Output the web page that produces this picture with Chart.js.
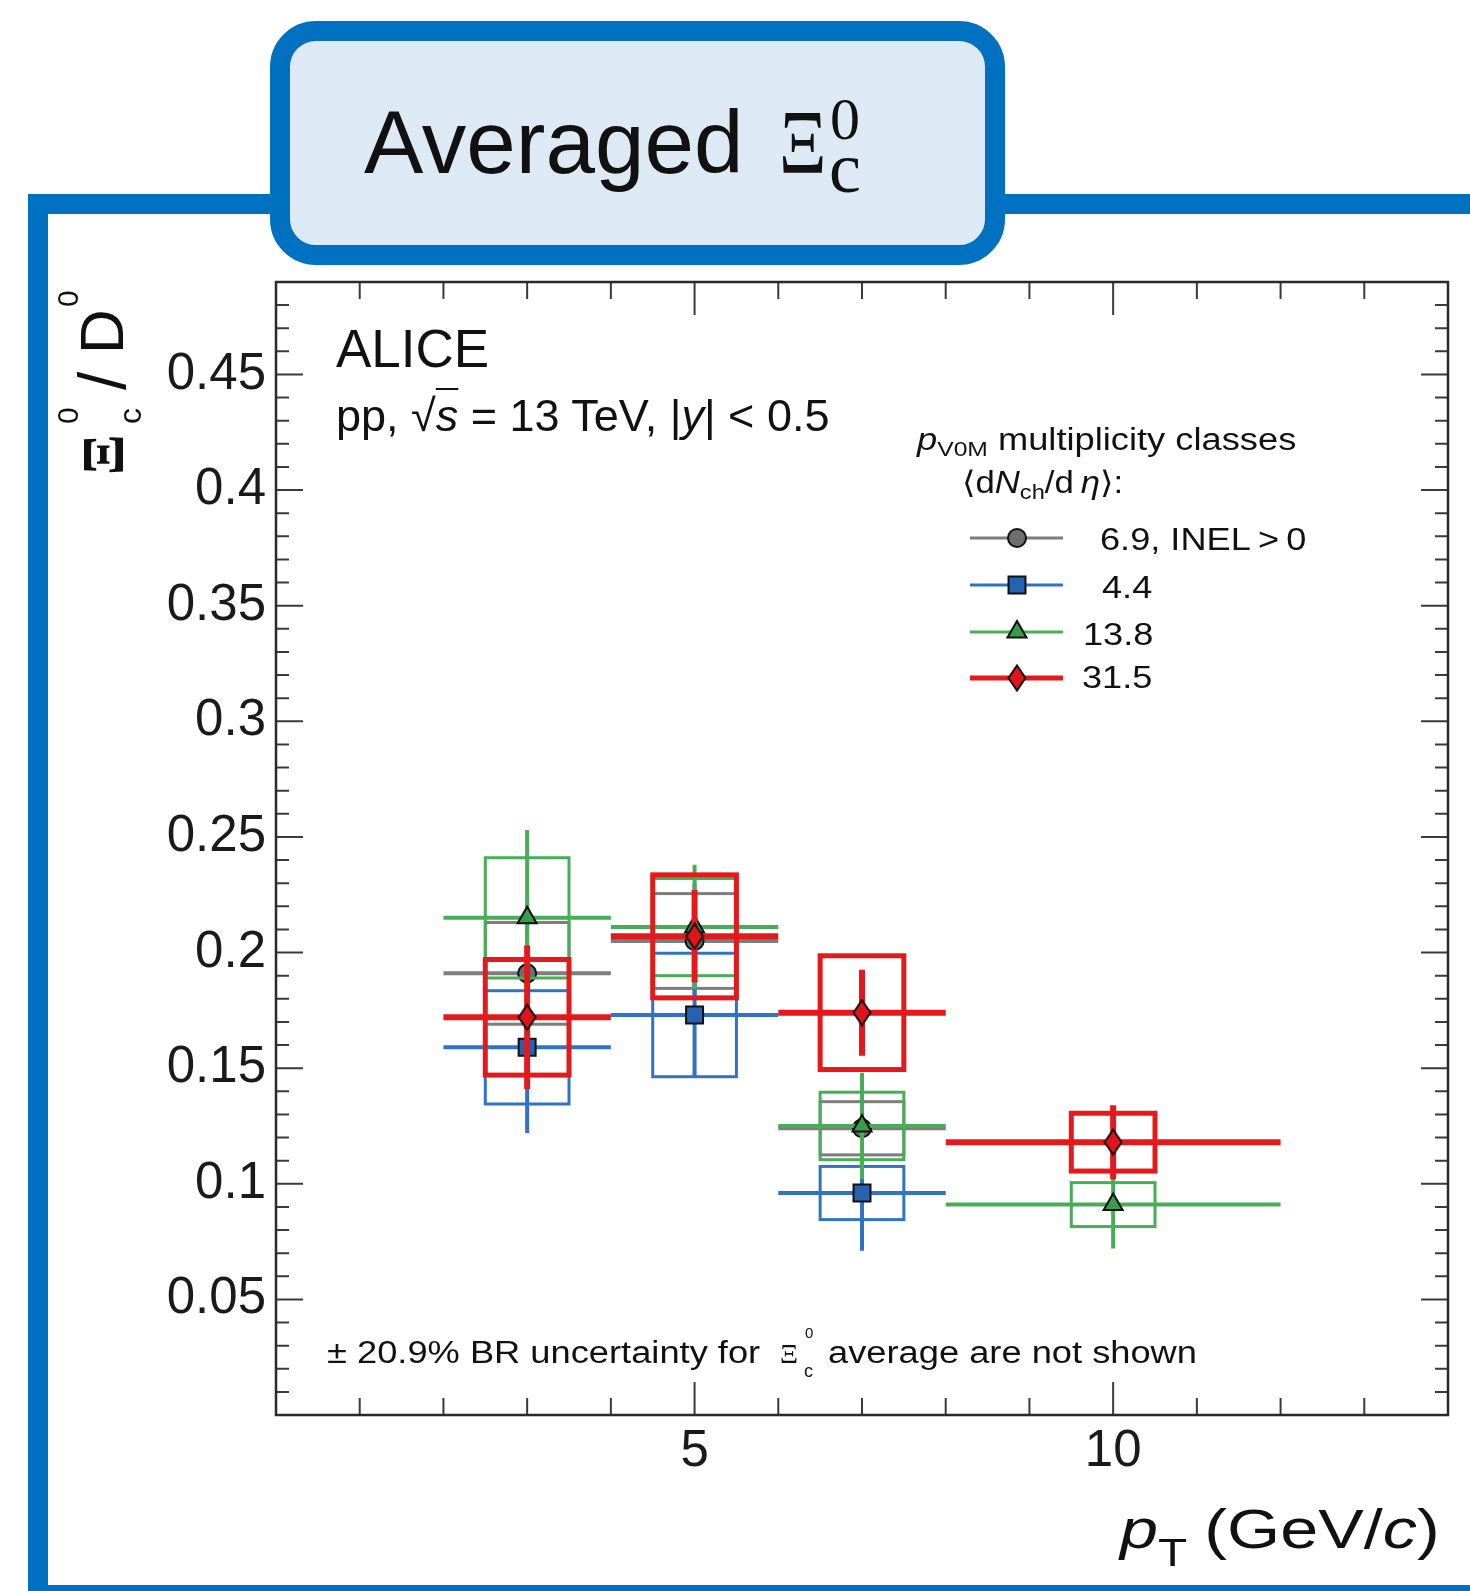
<!DOCTYPE html>
<html>
<head>
<meta charset="utf-8">
<title>Averaged Xi_c0 / D0</title>
<script src="https://cdn.jsdelivr.net/npm/chart.js@4.4.1/dist/chart.umd.min.js"></script>
<style>
  html, body { margin: 0; padding: 0; background: #fff; }
  body { width: 1470px; height: 1591px; overflow: hidden; position: relative;
         font-family: "Liberation Sans", Arial, Helvetica, sans-serif; color: #111; }
  #plot { position: absolute; left: 0; top: 0; width: 1470px; height: 1591px; }
  #frame { position: absolute; left: 28px; top: 194px; width: 1500px; height: 1411px;
           box-sizing: border-box; border: 20px solid #0070c0; }
  #titlebox { position: absolute; left: 270px; top: 21px; width: 735px; height: 244px;
              box-sizing: border-box; border: 20px solid #0070c0; border-radius: 46px; background: #dde9f5; }
  .txt { position: absolute; white-space: nowrap; line-height: 1; transform-origin: 0 0; color: #111; }
  .serif { font-family: "Liberation Serif", "Times New Roman", serif; }
  .lo { font-size: 0.68em; position: relative; top: 0.3em; }
  #ytitle { position: absolute; left: 0; top: 480px; width: 300px; height: 0;
            transform-origin: 0 0; transform: rotate(-90deg); }
</style>
</head>
<body>
<canvas id="plot" width="1470" height="1591"></canvas>
<div id="frame"></div>
<div id="titlebox"></div>
<div id="ytitle"></div>
<script>
// pT bins (GeV/c)
const ptLow  = [2, 4, 6, 8];
const ptHigh = [4, 6, 8, 12];
const ptMid  = [3, 5, 7, 10];

// Xi_c0 / D0 per multiplicity class: value, stat. error, syst. error
const inelVal  = [0.191, 0.205, 0.124, null];
const inelStat = [0.030, 0.025, 0.020, null];
const inelSyst = [0.022, 0.0205, 0.0115, null];

const lowVal   = [0.159, 0.173, 0.096, null];
const lowStat  = [0.037, 0.027, 0.025, null];
const lowSyst  = [0.0245, 0.0267, 0.0115, null];

const midVal   = [0.215, 0.211, 0.125, 0.091];
const midStat  = [0.038, 0.027, 0.023, 0.019];
const midSyst  = [0.026, 0.021, 0.0146, 0.0095];

const highVal  = [0.172, 0.207, 0.174, 0.118];
const highStat = [0.031, 0.020, 0.0186, 0.016];
const highSyst = [0.025, 0.0266, 0.0246, 0.0125];

const classLabels = ['6.9, INEL\u2009>\u20090', '4.4', '13.8', '31.5'];

// axis tick labels
const xMajor = [5, 10];
const xMajorLabels = ['5', '10'];
const yMajor = [0.05, 0.1, 0.15, 0.2, 0.25, 0.3, 0.35, 0.4, 0.45];
const yMajorLabels = ['0.05', '0.1', '0.15', '0.2', '0.25', '0.3', '0.35', '0.4', '0.45'];

// diamond marker (taller than wide)
function makeDiamond(w, h, fill) {
  const c = document.createElement('canvas');
  c.width = w; c.height = h;
  const g = c.getContext('2d');
  g.beginPath();
  g.moveTo(w / 2, 1.5); g.lineTo(w - 1.5, h / 2); g.lineTo(w / 2, h - 1.5); g.lineTo(1.5, h / 2);
  g.closePath();
  g.fillStyle = fill; g.fill();
  g.lineWidth = 2; g.strokeStyle = '#111'; g.stroke();
  return c;
}
const diamondImg = makeDiamond(20, 28, '#e0141c');

const series = [
  { label: classLabels[0], val: inelVal, stat: inelStat, syst: inelSyst, color: '#7d7d7d', fill: '#6e6e6e',
    style: 'circle', radius: 9, lw: 4, bw: 3, legLw: 3, order: 3 },
  { label: classLabels[1], val: lowVal, stat: lowStat, syst: lowSyst, color: '#2f73c4', fill: '#2562b2',
    style: 'rect', radius: 12, lw: 4, bw: 3, legLw: 3, order: 2 },
  { label: classLabels[2], val: midVal, stat: midStat, syst: midSyst, color: '#48ad57', fill: '#3a9c4a',
    style: 'triangle', radius: 11, lw: 4, bw: 3, legLw: 3, order: 1 },
  { label: classLabels[3], val: highVal, stat: highStat, syst: highSyst, color: '#e31a1c', fill: '#e0141c',
    style: diamondImg, radius: 10, lw: 6, bw: 5, legLw: 5, order: 0 }
];

// error bars (bin width + stat) and syst boxes, drawn just before each series' markers
const errorBars = {
  id: 'errorBars',
  beforeDatasetDraw(chart, args) {
    const s = chart.data.datasets[args.index].errs;
    const xs = chart.scales.x, ys = chart.scales.y, ctx = chart.ctx;
    ctx.save();
    ctx.strokeStyle = s.color;
    ctx.lineCap = 'butt';
    s.val.forEach((v, i) => {
      if (v === null) return;
      const py = ys.getPixelForValue(v);
      const pc = xs.getPixelForValue(ptMid[i]);
      ctx.lineWidth = s.lw;
      ctx.beginPath();
      ctx.moveTo(xs.getPixelForValue(ptLow[i]), py);
      ctx.lineTo(xs.getPixelForValue(ptHigh[i]), py);
      ctx.moveTo(pc, ys.getPixelForValue(v - s.stat[i]));
      ctx.lineTo(pc, ys.getPixelForValue(v + s.stat[i]));
      ctx.stroke();
      const bx0 = xs.getPixelForValue(ptMid[i] - 0.5), bx1 = xs.getPixelForValue(ptMid[i] + 0.5);
      const by0 = ys.getPixelForValue(v + s.syst[i]), by1 = ys.getPixelForValue(v - s.syst[i]);
      ctx.lineWidth = s.bw;
      ctx.strokeRect(bx0, by0, bx1 - bx0, by1 - by0);
    });
    ctx.restore();
  }
};

function drawMarker(ctx, s, x, y) {
  if (typeof s.style !== 'string') {
    ctx.drawImage(s.style, x - s.style.width / 2, y - s.style.height / 2);
    return;
  }
  const r = s.radius;
  ctx.beginPath();
  if (s.style === 'circle') {
    ctx.arc(x, y, r, 0, Math.PI * 2);
  } else if (s.style === 'rect') {
    const h = r * Math.SQRT1_2;
    ctx.rect(x - h, y - h, 2 * h, 2 * h);
  } else {
    for (let k = 0; k < 3; k++) {
      const a = k * 2 * Math.PI / 3;
      ctx[k ? 'lineTo' : 'moveTo'](x + Math.sin(a) * r, y - Math.cos(a) * r);
    }
    ctx.closePath();
  }
  ctx.fillStyle = s.fill; ctx.fill();
  ctx.lineWidth = 2; ctx.strokeStyle = '#111'; ctx.stroke();
}

// frame, inward ticks on all four sides, legend symbols
const frameAndLegend = {
  id: 'frameAndLegend',
  afterDraw(chart) {
    const { left, right, top, bottom } = chart.chartArea;
    const xs = chart.scales.x, ys = chart.scales.y, ctx = chart.ctx;
    ctx.save();
    ctx.strokeStyle = '#3a3a3a';
    ctx.lineWidth = 2;
    ctx.beginPath();
    xs.ticks.forEach(t => {
      if (t.value <= xs.min || t.value >= xs.max) return;
      const px = xs.getPixelForValue(t.value);
      const len = xMajor.includes(t.value) ? 33 : 17;
      ctx.moveTo(px, bottom); ctx.lineTo(px, bottom - len);
      ctx.moveTo(px, top); ctx.lineTo(px, top + len);
    });
    ys.ticks.forEach(t => {
      if (t.value <= ys.min || t.value >= ys.max) return;
      const py = ys.getPixelForValue(t.value);
      const major = Math.round(t.value * 100) % 5 === 0;
      const len = major ? 27 : 13;
      ctx.moveTo(left, py); ctx.lineTo(left + len, py);
      ctx.moveTo(right, py); ctx.lineTo(right - len, py);
    });
    ctx.stroke();
    ctx.lineWidth = 2.5;
    ctx.strokeStyle = '#2a2a2a';
    ctx.strokeRect(left, top, right - left, bottom - top);

    // legend rows
    const legY = [538, 585, 632, 678];
    series.forEach((s, i) => {
      ctx.strokeStyle = s.color;
      ctx.lineWidth = s.legLw;
      ctx.beginPath();
      ctx.moveTo(970, legY[i]); ctx.lineTo(1063, legY[i]);
      ctx.stroke();
      drawMarker(ctx, s, 1017, legY[i]);
    });
    ctx.restore();
  }
};

const xTicks = [];
for (let i = 0; i <= 14; i++) xTicks.push({ value: i });
const yTicks = [];
for (let i = 0; i <= 49; i++) yTicks.push({ value: i / 100 });

const chart = new Chart(document.getElementById('plot').getContext('2d'), {
  type: 'scatter',
  data: {
    datasets: series.map(s => ({
      label: s.label,
      data: ptMid.map((x, i) => ({ x: x, y: s.val[i] })).filter(p => p.y !== null),
      order: s.order,
      pointStyle: s.style,
      pointRadius: s.radius,
      pointHoverRadius: s.radius,
      pointBackgroundColor: s.fill,
      pointBorderColor: '#111',
      pointBorderWidth: 2,
      showLine: false,
      errs: s
    }))
  },
  options: {
    responsive: false,
    animation: false,
    devicePixelRatio: 1,
    layout: { padding: { left: 0, top: 282, right: 22, bottom: 0 } },
    plugins: { legend: { display: false }, tooltip: { enabled: false } },
    scales: {
      x: {
        type: 'linear', min: 0, max: 14,
        afterBuildTicks: (scale) => { scale.ticks = xTicks.map(t => ({ value: t.value })); },
        afterFit: (scale) => { scale.height = 176; },
        grid: { display: false, drawTicks: false },
        border: { display: false },
        ticks: {
          autoSkip: false, maxRotation: 0, padding: 6, color: '#1a1a1a',
          font: { family: 'Liberation Sans', size: 51 },
          callback: (v) => {
            const i = xMajor.indexOf(v);
            return i >= 0 ? xMajorLabels[i] : '';
          }
        }
      },
      y: {
        type: 'linear', min: 0, max: 0.49,
        afterBuildTicks: (scale) => { scale.ticks = yTicks.map(t => ({ value: t.value })); },
        afterFit: (scale) => { scale.width = 276; },
        grid: { display: false, drawTicks: false },
        border: { display: false },
        ticks: {
          autoSkip: false, padding: 10, color: '#1a1a1a',
          font: { family: 'Liberation Sans', size: 51 },
          callback: (v) => {
            const i = yMajor.findIndex(m => Math.round(m * 100) === Math.round(v * 100));
            return i >= 0 ? yMajorLabels[i] : '';
          }
        }
      }
    }
  },
  plugins: [errorBars, frameAndLegend]
});

// text placed by its baseline
function addText(parent, html, x, base, size, opt) {
  opt = opt || {};
  const el = document.createElement('div');
  el.className = 'txt' + (opt.serif ? ' serif' : '');
  el.innerHTML = html;
  el.style.left = x + 'px';
  el.style.top = (base - (opt.serif ? 0.8375 : 0.8465) * size) + 'px';
  el.style.fontSize = size + 'px';
  if (opt.bold) el.style.fontWeight = 'bold';
  if (opt.sx) el.style.transform = 'scaleX(' + opt.sx + ')';
  parent.appendChild(el);
  return el;
}
const body = document.body;

// boxed title
addText(body, 'Averaged', 364, 173, 89);
addText(body, '\u039E', 779, 173, 90, { serif: true, sx: 0.82 });
addText(body, '0', 830, 139, 60, { serif: true });
addText(body, 'c', 829, 192, 72, { serif: true });

// ALICE labels
addText(body, 'ALICE', 336, 367, 53);
addText(body, 'pp, \u221A<i style="text-decoration:overline;text-decoration-thickness:2px">s</i> = 13 TeV, |<i>y</i>| &lt; 0.5', 336, 431, 45);

// legend text
addText(body, '<i>p</i><span class="lo">V0M</span> multiplicity classes', 917, 450, 31, { sx: 1.17 });
addText(body, '\u27E8d<i>N</i><span class="lo">ch</span>/d\u2009<i>\u03B7</i>\u27E9:', 962, 493, 31, { sx: 1.12 });
const legTextX = [1100, 1102, 1083, 1082];
const legTextBase = [550, 598, 645, 688];
series.forEach((s, i) => addText(body, s.label, legTextX[i], legTextBase[i], 32, { sx: 1.13 }));

// note
addText(body, '\u00B1 20.9% BR uncertainty for', 327, 1363, 31, { sx: 1.17 });
addText(body, '\u039E', 780, 1363, 28, { serif: true });
addText(body, '0', 805, 1338, 15);
addText(body, 'c', 804, 1377, 18);
addText(body, 'average are not shown', 828, 1363, 31, { sx: 1.17 });

// x axis title
addText(body, '<i>p</i><span style="font-size:0.7em;position:relative;top:0.48em">T</span><span style="margin-left:14px">(GeV/<i>c</i>)</span>', 1120, 1548, 56, { sx: 1.22 });

// y axis title (rotated, reading upwards)
const yt = document.getElementById('ytitle');
addText(yt, '\u039E', 5, 123, 60, { serif: true, bold: true });
addText(yt, 'c', 56, 141, 32);
addText(yt, '0', 56, 78, 30);
addText(yt, '/', 90, 125, 66);
addText(yt, 'D', 126, 123, 62);
addText(yt, '0', 173, 78, 30);
</script>
</body>
</html>
